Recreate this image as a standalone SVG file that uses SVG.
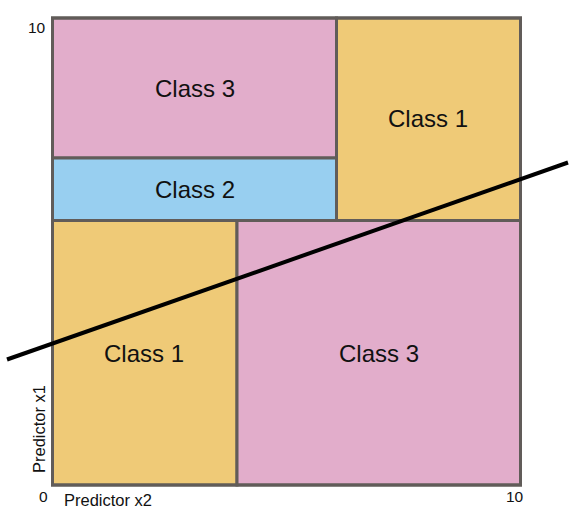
<svg xmlns="http://www.w3.org/2000/svg" width="569" height="516" viewBox="0 0 569 516">
<style>
.reg{stroke:#615c59;stroke-width:3}
.pink{fill:#E2ADCB}
.yel{fill:#EFCA77}
.blue{fill:#98CFF0}
.lbl{font-family:"Liberation Sans",Arial,sans-serif;font-size:24px;fill:#111;text-anchor:middle}
.ax{font-family:"Liberation Sans",Arial,sans-serif;font-size:16.5px;fill:#111}
.num{font-family:"Liberation Sans",Arial,sans-serif;font-size:15.5px;fill:#111}
</style>
<rect width="569" height="516" fill="#fff"/>
<g id="region-class3-top"><rect class="reg pink" x="52.5" y="18" width="284" height="140"/><text class="lbl" x="195" y="97">Class 3</text></g>
<g id="region-class2"><rect class="reg blue" x="52.5" y="158" width="284" height="62.5"/><text class="lbl" x="195" y="197.5">Class 2</text></g>
<g id="region-class1-top"><rect class="reg yel" x="336.5" y="18" width="184" height="202.5"/><text class="lbl" x="428" y="127">Class 1</text></g>
<g id="region-class1-bottom"><rect class="reg yel" x="52.5" y="220.5" width="184.5" height="264.5"/><text class="lbl" x="144" y="362">Class 1</text></g>
<g id="region-class3-bottom"><rect class="reg pink" x="237" y="220.5" width="283.5" height="264.5"/><text class="lbl" x="379" y="362">Class 3</text></g>
<g id="frame"><rect x="52.5" y="18" width="468" height="467" fill="none" stroke="#615c59" stroke-width="3"/></g>
<g id="connectors"><line x1="7" y1="359.5" x2="568" y2="162.5" stroke="#000" stroke-width="4"/></g>
<g id="axes">
<text class="num" x="28" y="33">10</text>
<text class="num" x="39" y="502">0</text>
<text class="num" x="506" y="502">10</text>
<text class="ax" x="64" y="505.5">Predictor x2</text>
<text class="ax" transform="translate(45,473) rotate(-90)">Predictor x1</text>
</g>
</svg>
